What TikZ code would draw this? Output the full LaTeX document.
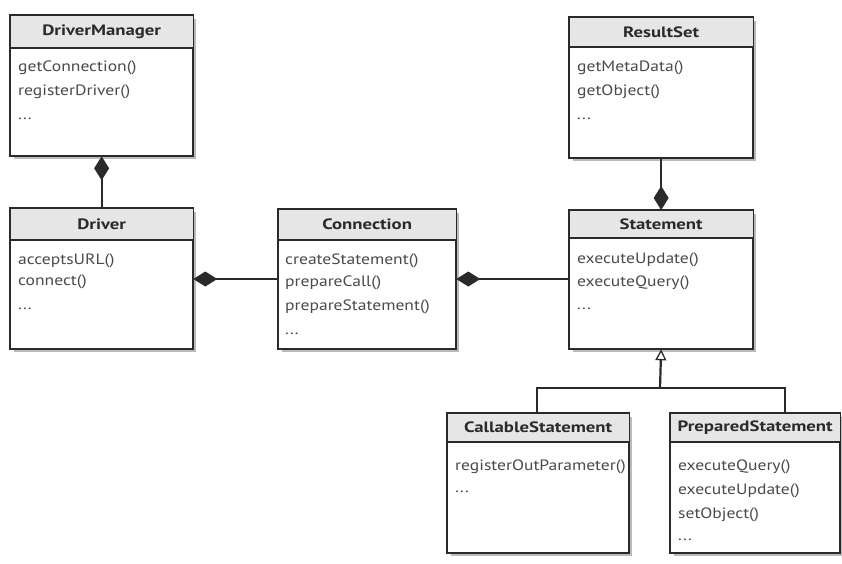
\documentclass[tikz,border=0pt]{standalone}
\usepackage{fontspec}
\setmainfont{PT Sans}
\newfontfamily\rowfont[FakeStretch=1.17]{PT Sans}
\newfontfamily\ttlfont[FakeStretch=1.25]{PT Sans}
\usetikzlibrary{arrows.meta,shadows}
\definecolor{hdrgray}{HTML}{E6E6E6}
\definecolor{ink}{HTML}{2A2A2A}
\tikzset{
  cls/.style={draw=ink, line width=1.3pt, fill=white, anchor=north west, inner sep=0pt,
    drop shadow={shadow xshift=3pt, shadow yshift=-3pt, opacity=0.45, fill=black!60}},
  hdr/.style={fill=hdrgray, draw=ink, line width=1.1pt},
  ttl/.style={font=\ttlfont\fontsize{15}{17}\selectfont\bfseries, text=ink, inner sep=0pt},
  row/.style={font=\rowfont\fontsize{15}{17}\selectfont, text=ink!85, anchor=west, inner sep=0pt},
  comp/.style={line width=2.2pt, draw=ink, -{Diamond[length=24pt, width=15pt, fill=ink]}},
  inh/.style={line width=2.2pt, draw=ink, -{Triangle[open, length=11pt, width=11pt, line width=1.3pt]}},
  plain/.style={line width=2.2pt, draw=ink}
}
% \umlbox{name}{x}{y}{w}{h}{header height}{title}
\newcommand{\umlbox}[7]{%
  \node[cls, minimum width=#4pt, minimum height=#5pt] (#1) at (#2,#3) {};
  \path[hdr] (#1.north west) rectangle ([yshift=-#6pt]#1.north east);
  \draw[draw=ink, line width=1.3pt] (#1.north west) rectangle (#1.south east);
  \node[ttl] (#1t) at ([yshift=-#6pt/2]#1.north) {#7};
}
\begin{document}
\begin{tikzpicture}[x=1pt, y=-1pt]
\useasboundingbox (0,0) rectangle (842,563);

% DriverManager
\umlbox{dm}{10}{15}{182}{140}{33}{DriverManager}
\node[row] (dm1) at (18,68) {getConnection()};
\node[row] (dm2) at (18,92) {registerDriver()};
\node[row] (dm3) at (18,119) {...};

% Driver
\umlbox{drv}{10}{208}{182}{140}{32}{Driver}
\node[row] (drv1) at (18,261) {acceptsURL()};
\node[row] (drv2) at (18,282) {connect()};
\node[row] (drv3) at (18,309) {...};

% Connection
\umlbox{con}{278}{209}{177}{139}{31}{Connection}
\node[row] (con1) at (285,261) {createStatement()};
\node[row] (con2) at (285,283) {prepareCall()};
\node[row] (con3) at (285,307) {prepareStatement()};
\node[row] (con4) at (285,334) {...};

% ResultSet
\umlbox{rs}{569}{17}{183}{140}{30}{ResultSet}
\node[row] (rs1) at (577,68) {getMetaData()};
\node[row] (rs2) at (577,92) {getObject()};
\node[row] (rs3) at (577,119) {...};

% Statement
\umlbox{st}{569}{210}{183}{138}{28}{Statement}
\node[row] (st1) at (577,260) {executeUpdate()};
\node[row] (st2) at (577,283) {executeQuery()};
\node[row] (st3) at (577,309) {...};

% CallableStatement
\umlbox{cs}{447}{413}{181}{139}{29}{CallableStatement}
\node[row] (cs1) at (455,467) {registerOutParameter()};
\node[row] (cs2) at (455,492) {...};

% PreparedStatement
\umlbox{ps}{670}{413}{169}{139}{29}{PreparedStatement}
\node[row] (ps1) at (678,467) {executeQuery()};
\node[row] (ps2) at (678,491) {executeUpdate()};
\node[row] (ps3) at (678,515) {setObject()};
\node[row] (ps4) at (678,540) {...};

% connectors
\draw[comp] (drv.north) -- (dm.south);
\draw[comp] (con.west |- 0,279) coordinate (cl) -- (cl -| drv.east);
\draw[comp] (st.west |- 0,279) coordinate (sl) -- (sl -| con.east);
\draw[comp] (rs.south) -- (st.north);

\coordinate (jn) at (660,388);
\draw[plain] (cs.north -| 537,0) |- (jn) -| (ps.north -| 785,0);
\draw[inh] (jn) -- (st.south);
\end{tikzpicture}
\end{document}
